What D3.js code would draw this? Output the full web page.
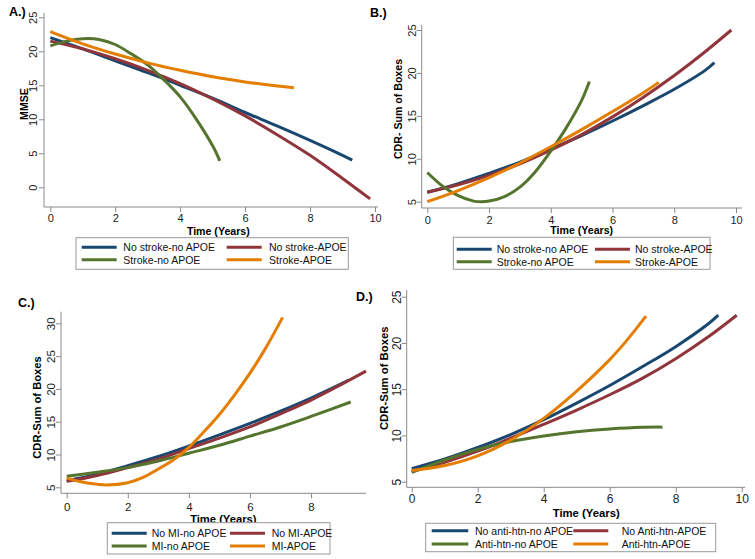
<!DOCTYPE html>
<html><head><meta charset="utf-8">
<script src="https://cdn.jsdelivr.net/npm/d3@7"></script>
<style>
body{margin:0;background:#fff}
svg{display:block}
text{font-family:"Liberation Sans",Arial,sans-serif}
</style>
</head><body>
<svg id="chart" width="755" height="559"></svg>
<script>
// ---------- DATA ----------
const seriesColors = ["#1a476f", "#90353b", "#55752f", "#e37e00"];

// Panel A: MMSE by stroke / APOE
const aLabels = ["No stroke-no APOE", "No stroke-APOE", "Stroke-no APOE", "Stroke-APOE"];
const aNoStrokeNoApoe = [[0,22],[1,20.35],[2,18.6],[3,16.85],[4,15.0],[5,13.1],[6,11.0],[7,9.0],[8,6.9],[9,4.7],[9.3,4.0]];
const aNoStrokeApoe   = [[0,21.5],[1,20.35],[2,18.9],[3,17.2],[4,15.25],[5,13.0],[6,10.5],[7,7.7],[8,4.7],[9,1.3],[9.85,-1.7]];
const aStrokeNoApoe   = [[0,20.8],[0.5,21.5],[1,21.85],[1.5,21.75],[2,21.0],[2.5,19.6],[3,18.0],[3.5,15.8],[4,13.3],[4.5,10.0],[5,6.1],[5.22,3.9]];
const aStrokeApoe     = [[0,22.9],[1,21.1],[2,19.6],[3,18.3],[4,17.2],[5,16.25],[6,15.5],[7,14.9],[7.5,14.65]];

// Panel B: CDR-SB by stroke / APOE
const bLabels = ["No stroke-no APOE", "No stroke-APOE", "Stroke-no APOE", "Stroke-APOE"];
const bNoStrokeNoApoe = [[0,6.1],[1,7.1],[2,8.3],[3,9.6],[4,11.15],[5,12.7],[6,14.4],[7,16.2],[8,18.1],[9,20.3],[9.3,21.2]];
const bNoStrokeApoe   = [[0,6.1],[1,6.97],[2,8.07],[3,9.42],[4,11.0],[5,12.82],[6,14.88],[7,17.17],[8,19.7],[9,22.47],[9.85,25.0]];
const bStrokeNoApoe   = [[0,8.4],[0.5,6.8],[1,5.7],[1.5,5.07],[1.75,5.0],[2,5.07],[2.5,5.6],[3,6.7],[3.5,8.5],[4,10.9],[4.5,13.6],[5,16.8],[5.25,19.0]];
const bStrokeApoe     = [[0,5.0],[1,6.3],[2,7.8],[3,9.5],[4,11.4],[5,13.4],[6,15.5],[7,17.7],[7.5,18.9]];

// Panel C: CDR-SB by MI / APOE
const cLabels = ["No MI-no APOE", "No MI-APOE", "MI-no APOE", "MI-APOE"];
const cNoMiNoApoe = [[0,6.0],[1,7.0],[2,8.3],[3,9.7],[4,11.3],[5,13.0],[6,14.75],[7,16.6],[8,18.6],[9.22,21.3]];
const cNoMiApoe   = [[0,5.9],[1,6.8],[2,8.0],[3,9.3],[4,10.9],[5,12.5],[6,14.2],[7,16.2],[8,18.3],[9,20.7],[9.8,22.7]];
const cMiNoApoe   = [[0,6.7],[1,7.3],[2,8.0],[3,9.0],[4,10.2],[5,11.4],[6,12.8],[7,14.2],[8,15.8],[9.3,18.0]];
const cMiApoe     = [[0,6.4],[0.5,5.8],[1,5.45],[1.3,5.35],[2,5.7],[2.5,6.5],[3,7.8],[3.5,9.2],[4,11.1],[4.5,13.5],[5,16.1],[5.5,19.1],[6,22.4],[6.5,26.1],[7.07,30.9]];

// Panel D: CDR-SB by anti-hypertensive / APOE
const dLabels = ["No anti-htn-no APOE", "No Anti-htn-APOE", "Anti-htn-no APOE", "Anti-htn-APOE"];
const dNoAntiNoApoe = [[0,6.4],[1,7.45],[2,8.7],[3,10.1],[4,11.7],[5,13.5],[6,15.4],[7,17.45],[8,19.6],[9,22.1],[9.29,23.0]];
const dNoAntiApoe   = [[0,6.1],[1,7.1],[2,8.3],[3,9.7],[4,11.2],[5,12.75],[6,14.4],[7,16.2],[8,18.3],[9,20.7],[9.85,23.0]];
const dAntiNoApoe   = [[0,6.0],[1,7.35],[2,8.5],[3,9.35],[4,9.95],[5,10.4],[6,10.7],[7,10.88],[7.6,10.9]];
const dAntiApoe     = [[0,6.2],[1,6.75],[2,7.8],[3,9.5],[4,11.85],[5,14.8],[6,18.2],[6.5,20.2],[7.1,22.9]];

// Tick labels
const xTicksFull  = [0, 2, 4, 6, 8, 10];
const xTicksShort = [0, 2, 4, 6, 8];
const yTicksMMSE  = [0, 5, 10, 15, 20, 25];
const yTicksCDR25 = [5, 10, 15, 20, 25];
const yTicksCDR30 = [5, 10, 15, 20, 25, 30];

// Titles
const xTitle = "Time (Years)";
const panelTitles = ["A.)", "B.)", "C.)", "D.)"];
const yTitles = ["MMSE", "CDR- Sum of Boxes", "CDR-Sum of Boxes", "CDR-Sum of Boxes"];

// ---------- LAYOUT ----------
const panels = [
  { series:[aNoStrokeNoApoe,aNoStrokeApoe,aStrokeNoApoe,aStrokeApoe], labels:aLabels,
    xTicks:xTicksFull, yTicks:yTicksMMSE, tickFs:11, titleFs:10.6,
    xr:[50.3,375], yd:[0,25], yr:[187.3,17.3], ax:[44,378], ay:[13,207],
    xLabY:218.3, xTit:[218.3,230.7], yLabX:33, yTit:[24,104], tag:[9,12],
    box:[76,237.7,348.3,269.3], rows:[247.3,259.7], lines:[[81.7,116.7],[226.7,261.7]], tx:[123.3,269] },
  { series:[bNoStrokeNoApoe,bNoStrokeApoe,bStrokeNoApoe,bStrokeApoe], labels:bLabels,
    xTicks:xTicksFull, yTicks:yTicksCDR25, tickFs:11, titleFs:10.6,
    xr:[427.3,736], yd:[5,25], yr:[201.7,30], ax:[421.7,742], ay:[25,208],
    xLabY:219.5, xTit:[581.7,230], yLabX:411.5, yTit:[398.3,109], tag:[370,13],
    box:[453.3,237.3,710,269.3], rows:[249.3,261.7], lines:[[456.7,491.7],[595,630]], tx:[496.7,635] },
  { series:[cNoMiNoApoe,cNoMiApoe,cMiNoApoe,cMiApoe], labels:cLabels,
    xTicks:xTicksShort, yTicks:yTicksCDR30, tickFs:11.5, titleFs:11.2,
    xr:[66.7,372.1], yd:[5,30], yr:[487.3,323.3], ax:[61,366], ay:[311.7,493.3],
    xLabY:506.8, xTit:[223.3,519.3], yLabX:51, yTit:[36.7,407.5], tag:[18,303],
    box:[107.3,522.7,330,554], rows:[533.3,546], lines:[[111.7,146.7],[230,265]], tx:[151.7,271.7] },
  { series:[dNoAntiNoApoe,dNoAntiApoe,dAntiNoApoe,dAntiApoe], labels:dLabels,
    xTicks:xTicksFull, yTicks:yTicksCDR25, tickFs:12, titleFs:11.3,
    xr:[411.7,741.7], yd:[5,25], yr:[481.7,296.7], ax:[406.7,745], ay:[290,487.3],
    xLabY:499.5, xTit:[586.2,512.6], yLabX:397, yTit:[384.3,378.3], tag:[356,297],
    box:[425.7,523.3,715.7,551.7], rows:[530.7,544], lines:[[431.7,468.3],[573.3,608.3]], tx:[475,621.7] }
];

const svg = d3.select("#chart");
const axisColor = "#8a8a8a";

panels.forEach((p, i) => {
  const x = d3.scaleLinear().domain([0,10]).range(p.xr);
  const y = d3.scaleLinear().domain(p.yd).range(p.yr);
  const g = svg.append("g");

  // axis lines
  g.append("line").attr("x1",p.ax[0]).attr("x2",p.ax[0]).attr("y1",p.ay[0]).attr("y2",p.ay[1])
    .attr("stroke",axisColor).attr("stroke-width",1);
  g.append("line").attr("x1",p.ax[0]).attr("x2",p.ax[1]).attr("y1",p.ay[1]).attr("y2",p.ay[1])
    .attr("stroke",axisColor).attr("stroke-width",1);

  // x axis ticks
  const xa = g.append("g").attr("transform",`translate(0,${p.ay[1]})`)
    .call(d3.axisBottom(x).tickValues(p.xTicks).tickSize(5).tickSizeOuter(0).tickFormat(d3.format("d")));
  xa.select(".domain").remove();
  xa.selectAll(".tick line").attr("stroke",axisColor);
  xa.selectAll(".tick text").attr("y", p.xLabY - p.ay[1]).attr("dy",null)
    .attr("dominant-baseline","central").attr("font-size",p.tickFs).attr("fill","#222")
    .attr("font-family","Liberation Sans, Arial, sans-serif");

  // y axis ticks (rotated labels)
  const ya = g.append("g").attr("transform",`translate(${p.ax[0]},0)`)
    .call(d3.axisLeft(y).tickValues(p.yTicks).tickSize(5).tickSizeOuter(0).tickFormat(d3.format("d")));
  ya.select(".domain").remove();
  ya.selectAll(".tick line").attr("stroke",axisColor);
  ya.selectAll(".tick text").attr("x",0).attr("y", p.yLabX - p.ax[0]).attr("dy",null)
    .attr("text-anchor","middle").attr("dominant-baseline","central")
    .attr("transform","rotate(-90)").attr("font-size",p.tickFs).attr("fill","#222")
    .attr("font-family","Liberation Sans, Arial, sans-serif");

  // series lines
  const line = d3.line().x(d => x(d[0])).y(d => y(d[1])).curve(d3.curveCatmullRom.alpha(0.5));
  p.series.forEach((s, k) => {
    g.append("path").datum(s).attr("d", line).attr("fill","none")
      .attr("stroke", seriesColors[k]).attr("stroke-width",3).attr("stroke-linecap","butt");
  });

  // titles
  g.append("text").attr("x",p.xTit[0]).attr("y",p.xTit[1]).attr("text-anchor","middle")
    .attr("dominant-baseline","central").attr("font-weight","bold").attr("font-size",p.titleFs).text(xTitle);
  g.append("text").attr("transform",`translate(${p.yTit[0]},${p.yTit[1]}) rotate(-90)`)
    .attr("text-anchor","middle").attr("dominant-baseline","central")
    .attr("font-weight","bold").attr("font-size",p.titleFs).text(yTitles[i]);
  g.append("text").attr("x",p.tag[0]).attr("y",p.tag[1]).attr("dominant-baseline","central")
    .attr("font-weight","bold").attr("font-size",12.5).text(panelTitles[i]);

  // legend
  const b = p.box;
  g.append("rect").attr("x",b[0]).attr("y",b[1]).attr("width",b[2]-b[0]).attr("height",b[3]-b[1])
    .attr("fill","#fff").attr("stroke","#9a9a9a").attr("stroke-width",1);
  p.labels.forEach((lab, k) => {
    const col = k % 2, row = Math.floor(k / 2);
    const ly = p.rows[row];
    g.append("line").attr("x1",p.lines[col][0]).attr("x2",p.lines[col][1]).attr("y1",ly).attr("y2",ly)
      .attr("stroke",seriesColors[k]).attr("stroke-width",3);
    g.append("text").attr("x",p.tx[col]).attr("y",ly).attr("dominant-baseline","central")
      .attr("font-size",10.5).attr("fill","#111").text(lab);
  });
});
</script>
</body></html>
